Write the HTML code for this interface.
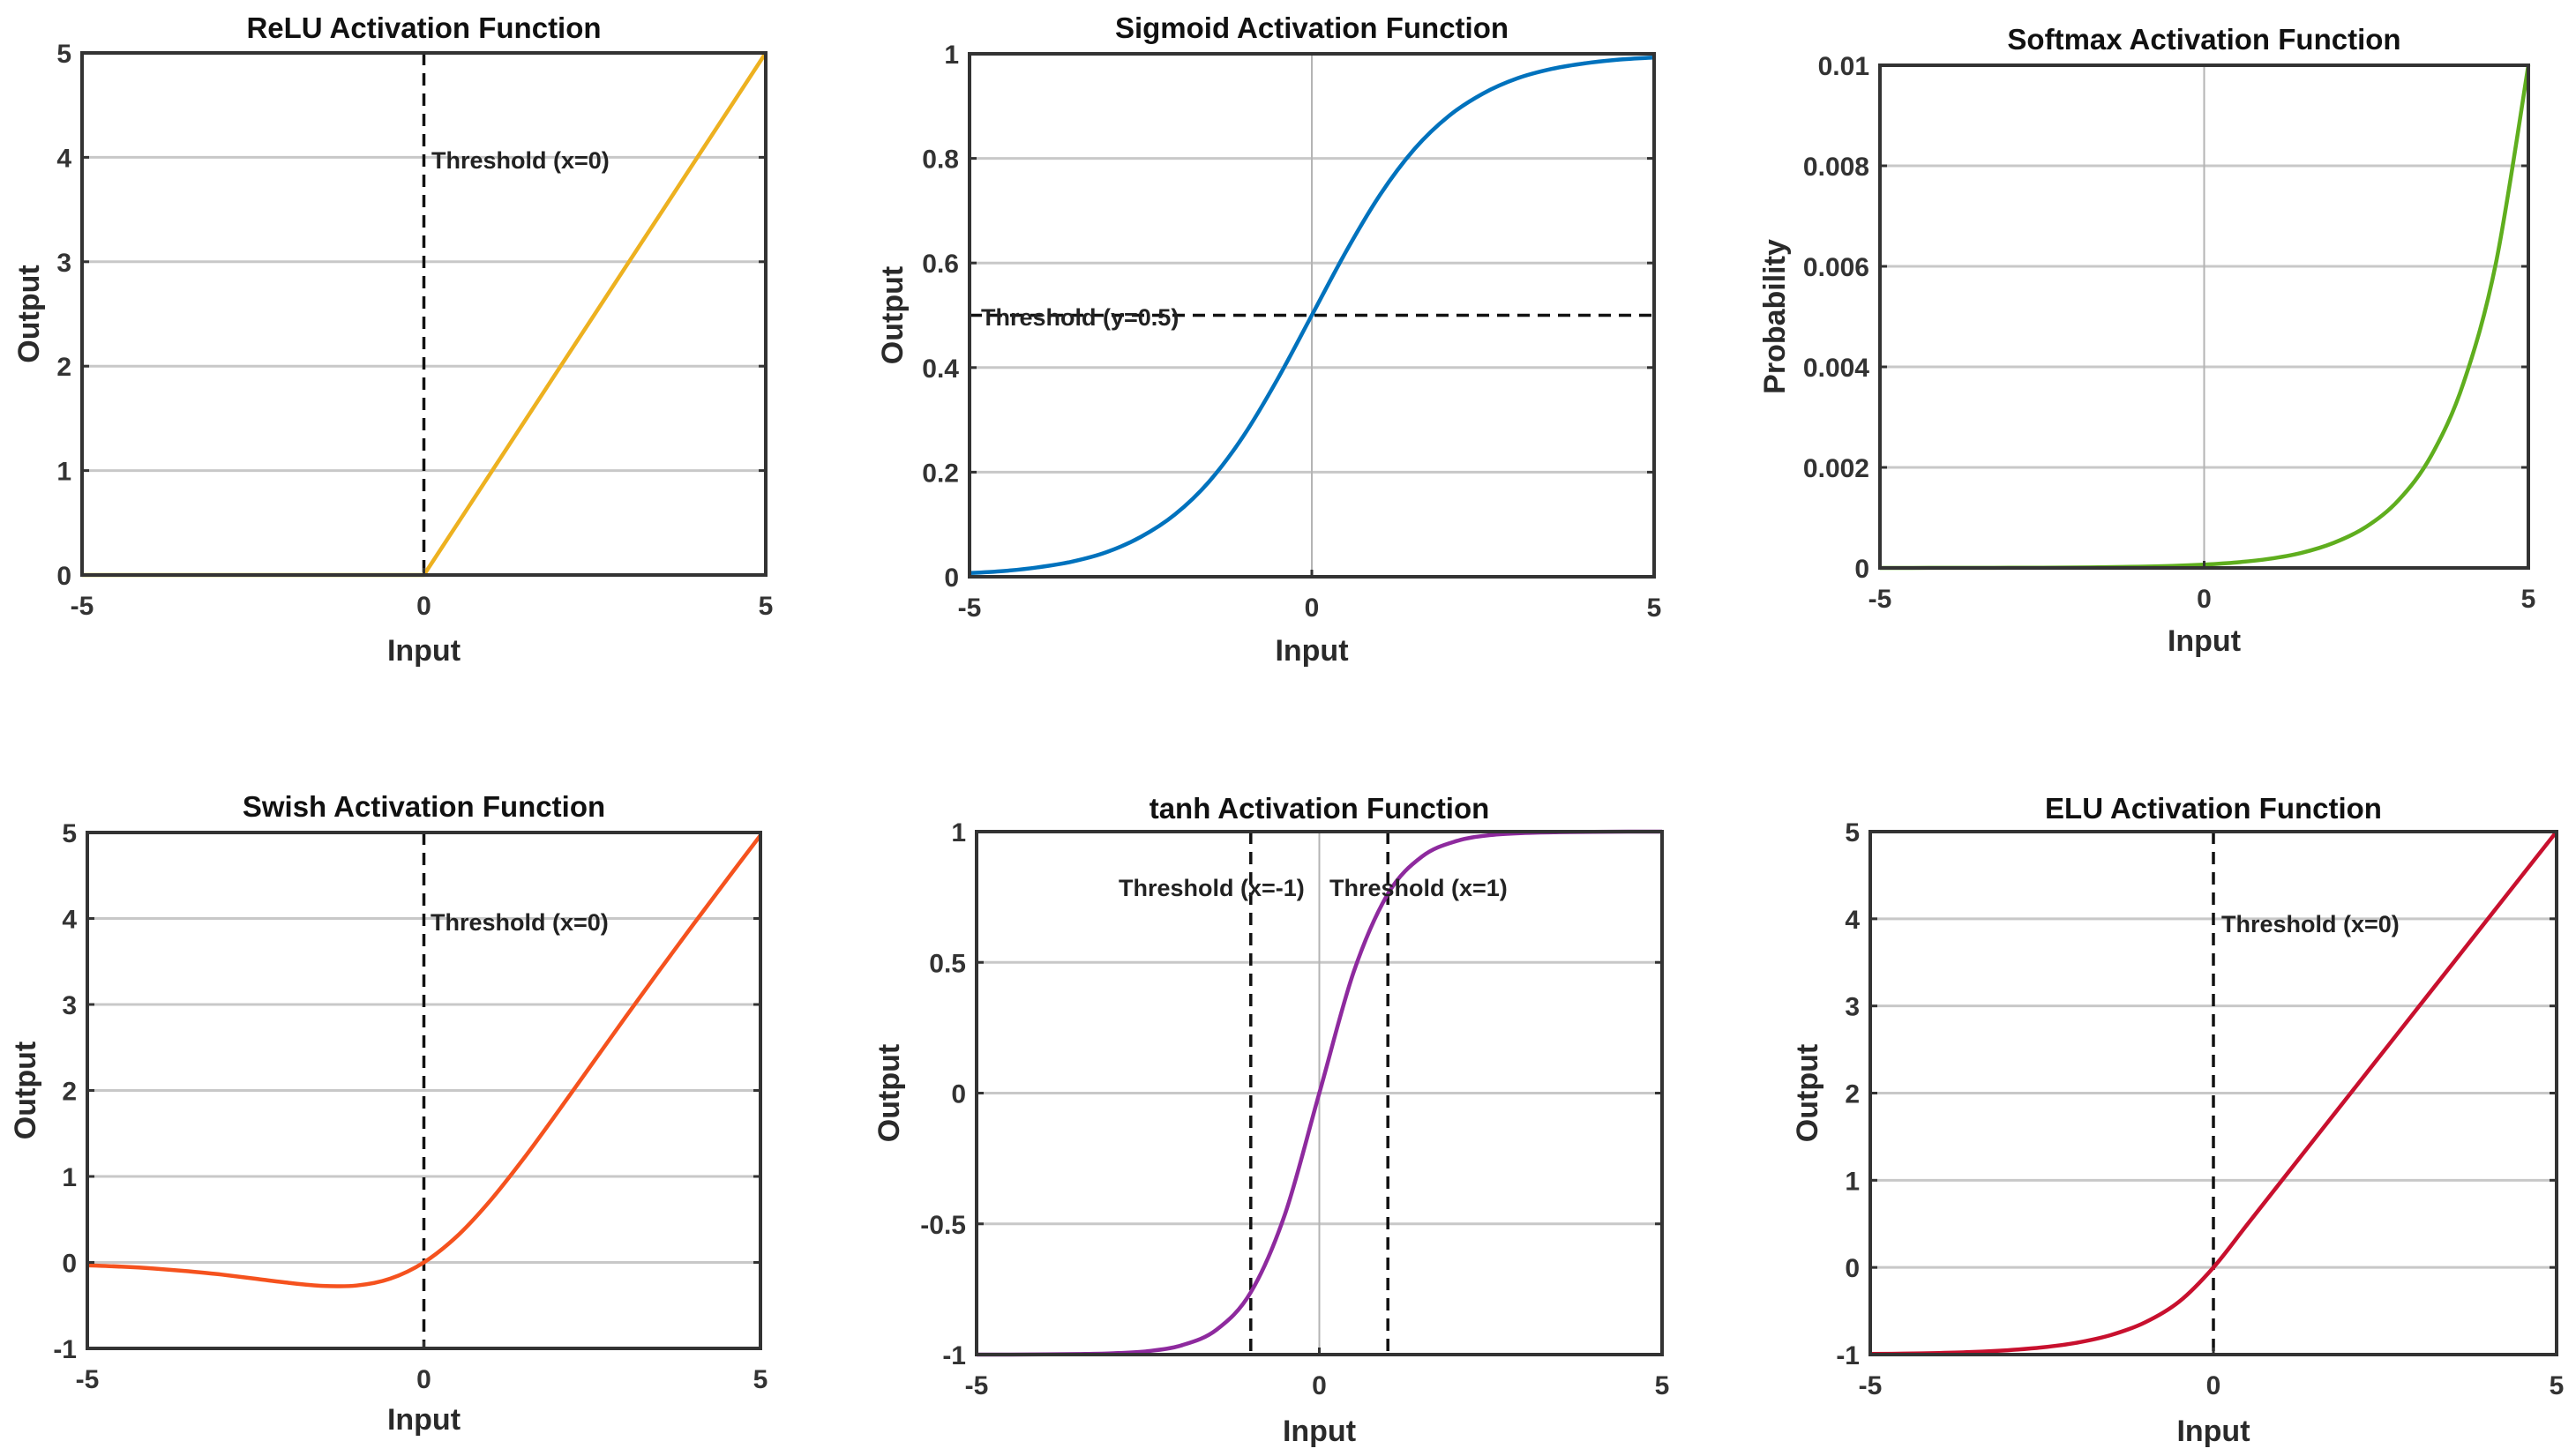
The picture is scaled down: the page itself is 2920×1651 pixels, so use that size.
<!DOCTYPE html>
<html><head><meta charset="utf-8"><style>
html,body{margin:0;padding:0;background:#fff;}
svg{display:block;font-family:"Liberation Sans",Arial,sans-serif;}
</style></head><body>
<svg id="fig" width="2920" height="1651" viewBox="0 0 2920 1651" xmlns="http://www.w3.org/2000/svg"></svg>
<script>
// Shared x samples
const xs = [-5,-4.5,-4,-3.5,-3,-2.5,-2,-1.5,-1,-0.5,0,0.5,1,1.5,2,2.5,3,3.5,4,4.5,5];
const reluVals = [0,0,0,0,0,0,0,0,0,0,0,0.5,1,1.5,2,2.5,3,3.5,4,4.5,5];
const sigmoidVals = [0.007,0.011,0.018,0.029,0.047,0.076,0.119,0.182,0.269,0.378,0.5,0.622,0.731,0.818,0.881,0.924,0.953,0.971,0.982,0.989,0.993];
const softmaxVals = [0.0000005,0.0000008,0.0000012,0.000002,0.0000034,0.0000056,0.0000091,0.000015,0.000025,0.000041,0.000067,0.00011,0.00018,0.0003,0.0005,0.00082,0.00135,0.00223,0.00368,0.00607,0.01];
const swishVals = [-0.033,-0.049,-0.072,-0.103,-0.142,-0.19,-0.238,-0.273,-0.269,-0.189,0,0.311,0.731,1.227,1.762,2.311,2.858,3.397,3.928,4.451,4.967];
const tanhVals = [-1,-1,-0.999,-0.998,-0.995,-0.987,-0.964,-0.905,-0.762,-0.462,0,0.462,0.762,0.905,0.964,0.987,0.995,0.998,0.999,1,1];
const eluVals = [-0.993,-0.989,-0.982,-0.97,-0.95,-0.918,-0.865,-0.777,-0.632,-0.393,0,0.5,1,1.5,2,2.5,3,3.5,4,4.5,5];
const xTicks = [-5,0,5];
const reluYTicks = [0,1,2,3,4,5];
const sigmoidYTicks = [0,0.2,0.4,0.6,0.8,1];
const softmaxYTicks = [0,0.002,0.004,0.006,0.008,0.01];
const swishYTicks = [-1,0,1,2,3,4,5];
const tanhYTicks = [-1,-0.5,0,0.5,1];
const eluYTicks = [-1,0,1,2,3,4,5];

const NS = "http://www.w3.org/2000/svg";
const svg = document.getElementById('fig');
function mk(tag, attrs, parent, text){
  const e = document.createElementNS(NS, tag);
  for (const k in attrs) e.setAttribute(k, attrs[k]);
  if (text !== undefined) e.textContent = text;
  (parent||svg).appendChild(e);
  return e;
}
function smoothPath(pts){
  let d = 'M'+pts[0][0].toFixed(1)+','+pts[0][1].toFixed(1);
  for (let i=0;i<pts.length-1;i++){
    const p0=pts[Math.max(0,i-1)],p1=pts[i],p2=pts[i+1],p3=pts[Math.min(pts.length-1,i+2)];
    const c1x=p1[0]+(p2[0]-p0[0])/6, c1y=p1[1]+(p2[1]-p0[1])/6;
    const c2x=p2[0]-(p3[0]-p1[0])/6, c2y=p2[1]-(p3[1]-p1[1])/6;
    d+=' C'+c1x.toFixed(1)+','+c1y.toFixed(1)+' '+c2x.toFixed(1)+','+c2y.toFixed(1)+' '+p2[0].toFixed(1)+','+p2[1].toFixed(1);
  }
  return d;
}
function fmt(v){ return String(v); }

function panel(cfg){
  const g = mk('g', {});
  
  
  const {L,R,T,B,ymin,ymax} = cfg;
  const sx = v => L + (v+5)/10*(R-L);
  const sy = v => B - (v-ymin)/(ymax-ymin)*(B-T);
  cfg.yTicks.forEach(t=>{
    if (t===ymin||t===ymax) return;
    const gl = mk('line',{x1:L,x2:R,y1:sy(t),y2:sy(t),stroke:'#c8c8c8','stroke-width':3},g);
    
    
  });
  if (cfg.zeroGrid){
    const vl = mk('line',{x1:sx(0),x2:sx(0),y1:T,y2:B,stroke:'#b4b4b4','stroke-width':2},g);
    
    
  }
  (cfg.vThresh||[]).forEach(v=>{
    const tl = mk('line',{x1:sx(v),x2:sx(v),y1:T,y2:B,stroke:'#111','stroke-width':3.5,'stroke-dasharray':'14,9'},g);
    
    
  });
  if (cfg.hThresh!==undefined){
    const tl = mk('line',{x1:L,x2:R,y1:sy(cfg.hThresh),y2:sy(cfg.hThresh),stroke:'#111','stroke-width':3.5,'stroke-dasharray':'14,9'},g);
    
    
  }
  const pts = xs.map((x,i)=>[sx(x), sy(cfg.vals[i])]);
  const p = mk('path',{d: cfg.linear ? 'M'+pts.map(q=>q[0].toFixed(1)+','+q[1].toFixed(1)).join(' L') : smoothPath(pts), fill:'none', stroke:cfg.color,'stroke-width':4.5,'stroke-linejoin':'round'},g);
  
  
  const box = mk('rect',{x:L,y:T,width:R-L,height:B-T,fill:'none',stroke:'#333','stroke-width':4},g);
  
  
  cfg.yTicks.forEach(t=>{
    mk('line',{x1:L,x2:L+8,y1:sy(t),y2:sy(t),stroke:'#333','stroke-width':3},g);
    mk('line',{x1:R-8,x2:R,y1:sy(t),y2:sy(t),stroke:'#333','stroke-width':3},g);
    const tx = mk('text',{x:L-12,y:sy(t)+11,'text-anchor':'end','font-size':30,'font-weight':'bold',fill:'#333'},g,fmt(t));
    
    
  });
  xTicks.forEach(t=>{
    mk('line',{x1:sx(t),x2:sx(t),y1:B-8,y2:B,stroke:'#333','stroke-width':3},g);
    const tx = mk('text',{x:sx(t),y:B+45,'text-anchor':'middle','font-size':30,'font-weight':'bold',fill:'#333'},g,fmt(t));
    
    
  });
  const title = mk('text',{x:(L+R)/2,y:cfg.titleY,'text-anchor':'middle','font-size':33,'font-weight':'bold',fill:'#111'},g,cfg.title);
  
  
  const xl = mk('text',{x:(L+R)/2,y:cfg.xLabelY,'text-anchor':'middle','font-size':34,'font-weight':'bold',fill:'#2a2a2a'},g,'Input');
  
  
  const yl = mk('text',{x:0,y:0,'text-anchor':'middle','font-size':34,'font-weight':'bold',fill:'#2a2a2a',transform:'translate('+cfg.yLabelX+','+((T+B)/2)+') rotate(-90)'},g,cfg.yLabel);
  
  
  (cfg.notes||[]).forEach(n=>{
    const nt = mk('text',{x:n[0],y:n[1],'font-size':27,'font-weight':'bold',fill:'#222'},g,n[2]);
    
    
  });
}

panel({name:'relu',L:93,R:868,T:60,B:652,ymin:0,ymax:5,yTicks:reluYTicks,vals:reluVals,color:'#EDB120',linear:true,
  vThresh:[0],title:'ReLU Activation Function',titleY:43,xLabelY:749,yLabelX:44,yLabel:'Output',notes:[[489,191,'Threshold (x=0)']]});
panel({name:'sigmoid',L:1099,R:1875,T:61,B:654,ymin:0,ymax:1,yTicks:sigmoidYTicks,vals:sigmoidVals,color:'#0072BD',
  zeroGrid:true,hThresh:0.5,title:'Sigmoid Activation Function',titleY:43,xLabelY:749,yLabelX:1023,yLabel:'Output',notes:[[1112,369,'Threshold (y=0.5)']]});
panel({name:'softmax',L:2131,R:2866,T:74,B:644,ymin:0,ymax:0.01,yTicks:softmaxYTicks,vals:softmaxVals,color:'#5FAE1E',
  zeroGrid:true,title:'Softmax Activation Function',titleY:56,xLabelY:738,yLabelX:2023,yLabel:'Probability'});
panel({name:'swish',L:99,R:862,T:944,B:1529,ymin:-1,ymax:5,yTicks:swishYTicks,vals:swishVals,color:'#F5521E',
  vThresh:[0],title:'Swish Activation Function',titleY:926,xLabelY:1621,yLabelX:40,yLabel:'Output',notes:[[488,1055,'Threshold (x=0)']]});
panel({name:'tanh',L:1107,R:1884,T:943,B:1536,ymin:-1,ymax:1,yTicks:tanhYTicks,vals:tanhVals,color:'#8E2A9E',
  zeroGrid:true,vThresh:[-1,1],title:'tanh Activation Function',titleY:928,xLabelY:1634,yLabelX:1019,yLabel:'Output',
  notes:[[1268,1016,'Threshold (x=-1)'],[1507,1016,'Threshold (x=1)']]});
panel({name:'elu',L:2120,R:2898,T:943,B:1536,ymin:-1,ymax:5,yTicks:eluYTicks,vals:eluVals,color:'#C8102E',
  vThresh:[0],title:'ELU Activation Function',titleY:928,xLabelY:1634,yLabelX:2060,yLabel:'Output',notes:[[2518,1057,'Threshold (x=0)']]});
</script>
</body></html>
